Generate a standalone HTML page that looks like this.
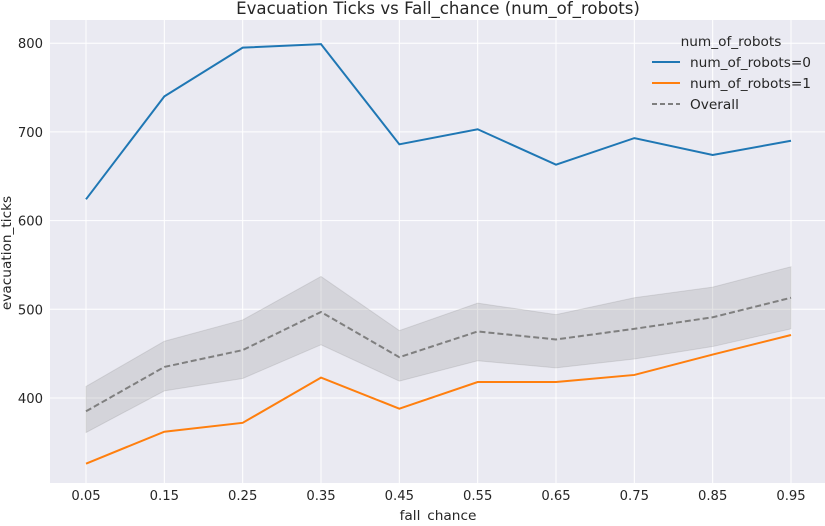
<!DOCTYPE html>
<html><head><meta charset="utf-8"><style>
body{margin:0;background:#fff;font-family:"DejaVu Sans","Liberation Sans",sans-serif}
svg text{font-family:"DejaVu Sans","Liberation Sans",sans-serif;fill:#262626}
</style></head><body>
<svg id="chart" width="825" height="522" xmlns="http://www.w3.org/2000/svg">
<rect x="50" y="20" width="775" height="463" fill="#eaeaf2"/>
<g id="grid"></g><g id="ci"></g><g id="lines"></g><g id="axes"></g>
<text x="438" y="14" text-anchor="middle" font-size="16.6">Evacuation Ticks vs Fall_chance (num_of_robots)</text>
<text x="438" y="520" text-anchor="middle" font-size="13.7">fall_chance</text>
<text transform="translate(11,253) rotate(-90)" text-anchor="middle" font-size="13.7">evacuation_ticks</text>
<g>
<text x="731" y="46" text-anchor="middle" font-size="13.7">num_of_robots</text>
<line x1="652" y1="62" x2="680" y2="62" stroke="#1f77b4" stroke-width="2"/>
<text x="690" y="67" font-size="13.7">num_of_robots=0</text>
<line x1="652" y1="83" x2="680" y2="83" stroke="#ff7f0e" stroke-width="2"/>
<text x="690" y="88" font-size="13.7">num_of_robots=1</text>
<line x1="652" y1="104" x2="680" y2="104" stroke="#7f7f7f" stroke-width="2" stroke-dasharray="5,3"/>
<text x="690" y="109" font-size="13.7">Overall</text>
</g>
</svg>
<script>
const categories=["0.05","0.15","0.25","0.35","0.45","0.55","0.65","0.75","0.85","0.95"];
const robots0=[624,740,795,799,686,703,663,693,674,690];
const robots1=[326,362,372,423,388,418,418,426,449,471];
const overall=[385,435,454,497,446,475,466,478,491,513];
const ciUpper=[413,464,488,537,476,507,494,513,525,548];
const ciLower=[361,408,422,460,419,442,434,444,458,478];
const yTicks=[400,500,600,700,800];
const NS="http://www.w3.org/2000/svg";
const x=i=>86+i*(791-86)/(categories.length-1);
const y=v=>398-(v-400)*0.887;
function mk(tag,attrs,parent){const e=document.createElementNS(NS,tag);for(const k in attrs)e.setAttribute(k,attrs[k]);document.getElementById(parent).appendChild(e);return e;}
categories.forEach((c,i)=>{
 const g=mk('line',{x1:x(i),x2:x(i),y1:20,y2:483,stroke:'#fff','stroke-width':1},'grid');
 
 
 const t=mk('text',{x:x(i),y:500,'text-anchor':'middle','font-size':13.2},'axes');t.textContent=c;
 
 
});
yTicks.forEach(v=>{
 const g=mk('line',{x1:50,x2:825,y1:y(v),y2:y(v),stroke:'#fff','stroke-width':1},'grid');
 
 
 const t=mk('text',{x:43,y:y(v)+5,'text-anchor':'end','font-size':13.2},'axes');t.textContent=v;
 
 
});
let pts=ciUpper.map((v,i)=>x(i)+','+y(v));
for(let i=ciLower.length-1;i>=0;i--)pts.push(x(i)+','+y(ciLower[i]));
const band=mk('polygon',{points:pts.join(' '),fill:'#7f7f7f','fill-opacity':0.2,stroke:'#7f7f7f','stroke-opacity':0.2},'ci');


function line(arr,color,name,dash){
 const p=mk('polyline',{points:arr.map((v,i)=>x(i)+','+y(v)).join(' '),fill:'none',stroke:color,'stroke-width':2},'lines');
 if(dash)p.setAttribute('stroke-dasharray','6,3');
 
 
}
line(robots0,'#1f77b4','line-robots-0');
line(robots1,'#ff7f0e','line-robots-1');
line(overall,'#7f7f7f','line-overall',true);
</script>
</body></html>
